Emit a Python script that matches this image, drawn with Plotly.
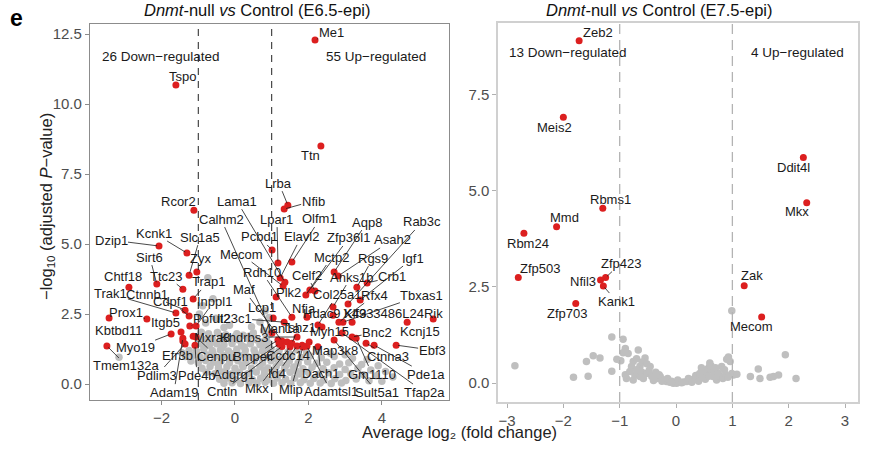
import plotly.graph_objects as go

W, H = 874, 450
FONT = "Arial, 'Liberation Sans', sans-serif"

# ---------------- E6.5-epi : significant genes ----------------
e65_genes = ["Me1", "Tspo", "Ttn", "Lrba", "Nfib", "Rcor2", "Pcbd1", "Lpar1", "Olfm1", "Elavl2",
             "Lama1", "Mecom", "Rdh10", "Calhm2", "Aqp8", "Asah2", "Zfp36l1", "Celf2", "Mctp2", "Plk2",
             "Rgs9", "Crb1", "Rab3c", "Igf1", "Anks1b", "Col25a1", "Rfx4", "Tbxas1", "Hdac9", "Klf3",
             "X4933486L24Rik", "Kcnj15", "Nfia", "Lcp1", "Maf", "Il23c1", "Man1a", "Tshz1", "Khdrbs3", "Bmper",
             "Ccdc14", "Myh15", "Bnc2", "Map3k8", "Ebf3", "Ctnna3", "Pde1a", "Gm1110", "Tfap2a", "Sult5a1",
             "Adamtsl1", "Dach1", "Mlip", "Mkx", "Cntln", "Adgrg1", "Id4",
             "Dzip1", "Kcnk1", "Slc1a5", "Zyx", "Sirt6", "Ttc23", "Chtf18", "Trap1", "Trak1", "Ctnnb1",
             "Cdpf1", "Inppl1", "Pofut2", "Kbtbd11", "Prox1", "Itgb5", "Myo19", "Mxra8", "Cenpu", "Efr3b",
             "Pdlim3", "Pde4b", "Adam19", "Tmem132a"]
e65_fc = [2.18, -1.61, 2.34, 1.44, 1.34, -1.12, 1.01, 1.17, 1.55, 1.23,
          1.36, 1.31, 1.55, 1.01, 2.70, 2.81, 2.04, 2.18, 1.93, 1.12,
          3.32, 3.60, 3.08, 3.41, 2.67, 2.26, 2.83, 2.94, 2.67, 3.19,
          5.40, 4.69, 1.96, 1.04, 1.28, 1.34, 1.42, 1.55, 1.69, 1.17,
          1.83, 2.37, 3.19, 2.02, 4.39, 3.57, 3.79, 3.30, 2.92, 2.70,
          1.96, 2.26, 1.85, 1.50, 1.28, 1.20, 1.69,
          -2.07, -1.31, -1.25, -1.04, -2.13, -1.42, -2.89, -1.14, -1.61, -1.36,
          -1.25, -1.06, -1.23, -3.43, -2.40, -1.47, -1.74, -1.14, -1.06, -1.42,
          -1.36, -1.09, -1.42, -3.49]
e65_logp = [12.29, 10.68, 8.50, 6.39, 6.25, 6.21, 4.79, 4.32, 4.36, 3.79,
            3.64, 3.50, 2.39, 1.82, 4.00, 3.86, 3.36, 3.32, 3.18, 3.11,
            3.46, 3.61, 2.86, 3.00, 2.75, 2.11, 2.21, 2.21, 2.46, 2.21,
            2.32, 2.21, 2.39, 2.36, 1.54, 2.21, 1.50, 1.46, 1.68, 1.57,
            1.39, 2.04, 1.68, 1.50, 1.39, 1.46, 1.39, 1.64, 1.82, 1.57,
            1.35, 1.33, 1.32, 1.33, 1.34, 1.43, 1.36,
            4.93, 4.68, 3.89, 4.00, 3.57, 3.39, 3.46, 3.04, 2.54, 2.64,
            2.43, 2.07, 2.07, 2.36, 2.32, 1.86, 1.79, 1.71, 1.68, 1.54,
            1.43, 1.39, 1.64, 1.36]

# ---------------- E6.5-epi : non-significant genes ----------------
e65_gray_fc = [-0.74, -0.60, -0.88, -0.97, -0.52, -0.80, -0.30, 0.82, 0.68, 0.93, 0.45, -0.15, -3.16,
               -0.92, -0.72, -0.48, -0.25, 0.05, 0.22, 0.50, 0.78, 0.95,
               -0.98, -0.82, -0.62, -0.40, -0.15, 0.10, 0.35, 0.60, 0.85,
               -0.90, -0.70, -0.50, -0.30, -0.08, 0.18, 0.42, 0.68, 0.92,
               -1.45, -1.25, -1.05, -0.85, -0.62, -0.40, -0.18, 0.05, 0.28, 0.52, 0.75, 0.98, 1.20, 1.45, 1.70, 1.95, 2.25, 2.60, 3.00,
               -1.35, -1.15, -0.95, -0.75, -0.55, -0.32, -0.10, 0.12, 0.35, 0.58, 0.80, 1.05, 1.30, 1.55, 1.80, 2.05, 2.35, 2.70, 3.20, 3.60,
               -1.20, -1.00, -0.80, -0.60, -0.38, -0.15, 0.08, 0.30, 0.52, 0.75, 0.98, 1.22, 1.48, 1.72, 1.98, 2.22, 2.50, 2.85, 3.10, 3.45, 3.90,
               -0.90, -0.68, -0.45, -0.22, 0.00, 0.22, 0.45, 0.68, 0.90, 1.12, 1.35, 1.60, 1.85, 2.10, 2.40, 2.70, 3.00, 3.35, 3.70, 4.10,
               -0.78, -0.55, -0.32, -0.10, 0.12, 0.35, 0.58, 0.80, 1.02, 1.25, 1.50, 1.75, 2.00, 2.28, 2.55, 2.85, 3.15, 3.50, 3.85, 4.30,
               -0.42, -0.20, 0.02, 0.25, 0.48, 0.70, 0.92, 1.15, 1.38, 1.62, 1.88, 2.15, 2.42, 2.72, 3.02, 3.30, 3.65, 4.00,
               -0.30, -0.08, 0.15, 0.38, 0.60, 0.82, 1.05, 1.28, 1.52, 1.78, 2.05, 2.32, 2.62, 2.90,
               -0.60, -0.35, -0.05, 0.25, 0.55, 0.85, 1.15, 1.40, 1.65, -0.45, -0.12, 0.20, 0.50, 0.80, 1.10,
               -0.68, -0.40, 0.00, 0.40, 0.75]
e65_gray_logp = [3.80, 3.05, 2.80, 2.50, 2.35, 2.18, 2.02, 2.62, 2.22, 2.38, 2.05, 2.10, 0.96,
                 1.85, 1.80, 1.84, 1.76, 1.80, 1.74, 1.82, 1.90, 1.78,
                 1.62, 1.58, 1.64, 1.58, 1.62, 1.57, 1.63, 1.58, 1.64,
                 1.42, 1.38, 1.44, 1.40, 1.45, 1.38, 1.44, 1.40, 1.46,
                 1.12, 1.20, 1.18, 1.24, 1.20, 1.22, 1.18, 1.24, 1.20, 1.22, 1.18, 1.24, 1.20, 1.15, 1.22, 1.12, 1.18, 1.10, 1.05,
                 0.98, 1.02, 0.96, 1.04, 0.98, 1.02, 0.96, 1.03, 0.97, 1.02, 0.96, 1.03, 0.97, 1.02, 0.95, 1.00, 0.94, 0.98, 0.92, 0.88,
                 0.82, 0.76, 0.84, 0.78, 0.82, 0.76, 0.83, 0.77, 0.82, 0.76, 0.83, 0.77, 0.82, 0.75, 0.80, 0.74, 0.78, 0.72, 0.76, 0.70, 0.65,
                 0.56, 0.63, 0.57, 0.62, 0.56, 0.62, 0.56, 0.62, 0.57, 0.63, 0.56, 0.61, 0.55, 0.60, 0.55, 0.58, 0.52, 0.56, 0.50, 0.45,
                 0.42, 0.37, 0.43, 0.36, 0.42, 0.37, 0.43, 0.36, 0.42, 0.37, 0.42, 0.36, 0.41, 0.35, 0.40, 0.34, 0.38, 0.33, 0.30, 0.25,
                 0.17, 0.22, 0.16, 0.21, 0.15, 0.21, 0.16, 0.22, 0.17, 0.21, 0.15, 0.20, 0.14, 0.19, 0.13, 0.18, 0.12, 0.10,
                 0.03, 0.05, 0.02, 0.05, 0.03, 0.06, 0.03, 0.05, 0.02, 0.05, 0.03, 0.04, 0.02, 0.04,
                 1.10, 1.30, 1.08, 1.32, 1.10, 1.30, 0.88, 0.68, 0.48, 0.70, 0.90, 0.68, 0.92, 0.50, 0.30,
                 1.52, 1.72, 1.70, 1.72, 1.50]

# ---------------- E7.5-epi : significant genes ----------------
e75_genes = ["Zeb2", "Meis2", "Rbms1", "Mmd", "Rbm24", "Zfp503", "Zfp423", "Nfil3", "Kank1", "Zfp703",
             "Ddit4l", "Mkx", "Zak", "Mecom"]
e75_fc = [-1.72, -2.00, -1.30, -2.12, -2.70, -2.80, -1.25, -1.34, -1.29, -1.78,
          2.26, 2.32, 1.21, 1.52]
e75_logp = [8.89, 6.90, 4.54, 4.06, 3.89, 2.74, 2.74, 2.68, 2.52, 2.07,
            5.86, 4.68, 2.53, 1.72]
e75_n_down, e75_n_up = 13, 4

# ---------------- E7.5-epi : non-significant genes ----------------
e75_gray_fc = [-2.86, -1.82, -1.56, -1.59, -1.47, -1.35, -1.14, -0.94, -1.14, -0.94, -0.85, -0.67, -0.55,
               -0.76, -0.79, -0.64, -0.46, -0.88, -0.76, -0.73, -0.64, -0.61, -0.52, -0.43, -0.34, -0.28,
               -0.22, -0.17, -0.11, -0.05, 0.01, 0.07, 0.13, 0.19, 0.25, 0.31, 0.37, 0.43, 0.49, 0.54,
               0.57, 0.60, 0.63, 0.66, 0.72, 0.78, 0.81, 0.90, 0.93, 0.96, 0.99, 1.02, 1.08, 1.32, 1.46,
               1.49, 1.67, 1.73, 1.82, 1.94, 2.13, 0.99,
               -0.90, -0.82, -0.70, -0.58, -0.48, -0.40, -0.30, -0.25, -0.15, -0.08, 0.03, 0.10, 0.22,
               0.28, 0.35, 0.40, 0.46, 0.52, 0.58, 0.62, 0.68, 0.75, 0.83, 0.86, 0.88, 0.92, 0.60, 0.45,
               -0.70, -0.60, -0.98, -1.05, -0.90, -0.52, -0.36, 0.42, 0.70]
e75_gray_logp = [0.45, 0.15, 0.18, 0.56, 0.71, 0.65, 1.20, 1.14, 0.31, 0.79, 0.77, 0.86, 0.65,
                 0.56, 0.43, 0.44, 0.43, 0.12, 0.08, 0.21, 0.17, 0.29, 0.25, 0.17, 0.12, 0.17,
                 0.08, 0.04, 0.02, 0.00, 0.00, 0.02, 0.03, 0.04, 0.07, 0.10, 0.12, 0.17, 0.21, 0.25,
                 0.38, 0.44, 0.34, 0.17, 0.08, 0.17, 0.43, 0.62, 0.68, 0.56, 0.25, 0.21, 0.23, 0.17, 0.37,
                 0.12, 0.15, 0.17, 0.21, 0.74, 0.12, 1.88,
                 0.22, 0.30, 0.35, 0.12, 0.32, 0.07, 0.22, 0.05, 0.12, 0.05, 0.08, 0.01, 0.12,
                 0.02, 0.20, 0.05, 0.30, 0.10, 0.18, 0.45, 0.30, 0.26, 0.12, 0.35, 0.22, 0.15, 0.52, 0.40,
                 0.63, 0.55, 0.58, 0.62, 0.90, 0.50, 0.28, 0.25, 0.40]

# ---------------- axes ----------------
e65_xticks = [-2, 0, 2, 4]
e65_yticks = [0, 2.5, 5, 7.5, 10, 12.5]
e75_xticks = [-3, -2, -1, 0, 1, 2, 3]
e75_yticks = [0, 2.5, 5, 7.5]
fc_cutoffs = [-1, 1]

# ---------------- label placement (pixel offsets from the point) ----------------
e65_label_offsets = {
    "Me1": (16, -7), "Tspo": (7, -9), "Ttn": (-10, 9), "Lrba": (-9, -22), "Nfib": (29, -8),
    "Rcor2": (-15, -9), "Pcbd1": (-13, -13), "Lpar1": (-1, -44), "Olfm1": (28, -43), "Elavl2": (21, -41),
    "Lama1": (-48, -81), "Mecom": (-42, -32), "Rdh10": (-30, -45), "Calhm2": (-51, -114), "Aqp8": (33, -50),
    "Asah2": (54, -36), "Zfp36l1": (39, -52), "Celf2": (-8, -16), "Mctp2": (26, -38), "Plk2": (12, -4),
    "Rgs9": (16, -29), "Crb1": (25, -6), "Rab3c": (74, -82), "Igf1": (53, -42), "Anks1b": (18, -30),
    "Col25a1": (19, -30), "Rfx4": (36, -27), "Tbxas1": (79, -27), "Hdac9": (-11, -2), "Klf3": (3, -9),
    "X4933486L24Rik": (-40, -6), "Kcnj15": (13, 9), "Nfia": (-3, -9), "Lcp1": (-11, -10), "Maf": (-38, -51),
    "Il23c1": (-50, -4), "Man1a": (-7, -14), "Tshz1": (7, -16), "Khdrbs3": (-53, 0), "Bmper": (-25, 16),
    "Ccdc14": (-14, 10), "Myh15": (8, 5), "Bnc2": (25, -5), "Map3k8": (26, 8), "Ebf3": (36, 5),
    "Ctnna3": (22, 13), "Pde1a": (52, 29), "Gm1110": (16, 36), "Tfap2a": (82, 59), "Sult5a1": (43, 52),
    "Adamtsl1": (24, 45), "Dach1": (3, 27), "Mlip": (-12, 42), "Mkx": (-33, 42), "Cntln": (-60, 45),
    "Adgrg1": (-45, 30), "Id4": (-20, 28),
    "Dzip1": (-48, -6), "Kcnk1": (-33, -20), "Slc1a5": (11, -38), "Zyx": (4, -14), "Sirt6": (-7, -27),
    "Ttc23": (-16, -13), "Chtf18": (-6, -11), "Trap1": (15, -17), "Trak1": (-65, -19), "Ctnnb1": (-38, -16),
    "Cdpf1": (-19, -15), "Inppl1": (18, -25), "Pofut2": (22, -8), "Kbtbd11": (9, 13), "Prox1": (-21, -7),
    "Itgb5": (-16, -9), "Myo19": (-36, 14), "Mxra8": (19, 1), "Cenpu": (20, 19), "Efr3b": (-5, 15),
    "Pdlim3": (-28, 31), "Pde4b": (2, 30), "Adam19": (-9, 54), "Tmem132a": (20, 20),
}
e75_label_offsets = {
    "Zeb2": (19, -8, False), "Meis2": (-9, 10, False), "Rbms1": (8, -9, False), "Mmd": (8, -9, False),
    "Rbm24": (4, 10, False), "Zfp503": (22, -9, False), "Zfp423": (15, -14, True), "Nfil3": (-18, 2, False),
    "Kank1": (13, 15, True), "Zfp703": (-9, 10, False), "Ddit4l": (-10, 10, False), "Mkx": (-10, 9, False),
    "Zak": (8, -10, False), "Mecom": (-10, 10, False),
}

RED = "#dc1f1f"
GRAY = "#bfbfbf"

fig = go.Figure()
fig.add_trace(go.Scatter(x=e65_gray_fc, y=e65_gray_logp, mode="markers",
                         marker=dict(color=GRAY, size=7.5), xaxis="x", yaxis="y", showlegend=False))
fig.add_trace(go.Scatter(x=e65_fc, y=e65_logp, mode="markers",
                         marker=dict(color=RED, size=7), xaxis="x", yaxis="y", showlegend=False))
fig.add_trace(go.Scatter(x=e75_gray_fc, y=e75_gray_logp, mode="markers",
                         marker=dict(color=GRAY, size=7.5), xaxis="x2", yaxis="y2", showlegend=False))
fig.add_trace(go.Scatter(x=e75_fc, y=e75_logp, mode="markers",
                         marker=dict(color=RED, size=7), xaxis="x2", yaxis="y2", showlegend=False))

ann = []
for g, fx, fy in zip(e65_genes, e65_fc, e65_logp):
    dx, dy = e65_label_offsets[g]
    line = (dx * dx + dy * dy) ** 0.5 > 17
    ann.append(dict(x=fx, y=fy, xref="x", yref="y", text=g, showarrow=True, ax=dx, ay=dy,
                    arrowhead=0, arrowwidth=0.8, standoff=2,
                    arrowcolor="#1a1a1a" if line else "rgba(0,0,0,0)",
                    font=dict(family=FONT, size=13, color="#1a1a1a"), borderpad=0))
for g, fx, fy in zip(e75_genes, e75_fc, e75_logp):
    dx, dy, line = e75_label_offsets[g]
    ann.append(dict(x=fx, y=fy, xref="x2", yref="y2", text=g, showarrow=True, ax=dx, ay=dy,
                    arrowhead=0, arrowwidth=0.8, standoff=2,
                    arrowcolor="#1a1a1a" if line else "rgba(0,0,0,0)",
                    font=dict(family=FONT, size=13, color="#1a1a1a"), borderpad=0))


def px_x(px):
    return px / W


def px_y(py):
    return 1 - py / H


def text_at(px, py, text, size=13.5, color="#1a1a1a", angle=0):
    ann.append(dict(x=px_x(px), y=px_y(py), xref="paper", yref="paper", text=text, showarrow=False,
                    xanchor="center", yanchor="middle", textangle=angle,
                    font=dict(family=FONT, size=size, color=color)))


n_down_65 = sum(1 for v in e65_fc if v < 0)
n_up_65 = sum(1 for v in e65_fc if v > 0)
text_at(160, 56, f"{n_down_65} Down\u2212regulated")
text_at(376, 56, f"{n_up_65} Up\u2212regulated")
text_at(567, 53, f"{e75_n_down} Down\u2212regulated")
text_at(797, 53, f"{e75_n_up} Up\u2212regulated")
text_at(257, 10, "<i>Dnmt</i>-null <i>vs</i> Control (E6.5-epi)", size=16.5, color="#111")
text_at(659, 10, "<i>Dnmt</i>-null <i>vs</i> Control (E7.5-epi)", size=16.5, color="#111")
text_at(16, 18, "<b>e</b>", size=23, color="#000")
text_at(47, 207, "\u2212log<sub>10</sub> (adjusted <i>P</i>\u2212value)", size=16.5, color="#222", angle=-90)
text_at(459, 432, "Average log\u2082 (fold change)", size=16.5, color="#222")

shapes = []
for c in fc_cutoffs:
    shapes.append(dict(type="line", xref="x", yref="y domain", x0=c, x1=c, y0=0, y1=1,
                       line=dict(color="#222", width=1, dash="7px,6px")))
    shapes.append(dict(type="line", xref="x2", yref="y2 domain", x0=c, x1=c, y0=0, y1=1,
                       line=dict(color="#b3b3b3", width=1.3, dash="10px,6px")))

tickfont = dict(family=FONT, size=15, color="#4d4d4d")
fig.update_layout(
    width=W, height=H, margin=dict(l=0, r=0, t=0, b=0),
    paper_bgcolor="white", plot_bgcolor="white",
    font=dict(family=FONT),
    annotations=ann, shapes=shapes,
    xaxis=dict(domain=[px_x(90), px_x(449)], range=[-3.95, 5.83], tickvals=e65_xticks,
               showgrid=False, zeroline=False, showline=True, mirror=True, linecolor="#8c8c8c",
               linewidth=1.2, ticks="outside", ticklen=4, tickcolor="#8c8c8c", tickfont=tickfont),
    yaxis=dict(domain=[px_y(400), px_y(24)], range=[-0.57, 12.86], tickvals=e65_yticks,
               tickformat=".1f", showgrid=False, zeroline=False, showline=True, mirror=True,
               linecolor="#8c8c8c", linewidth=1.2, ticks="outside", ticklen=4, tickcolor="#8c8c8c",
               tickfont=tickfont),
    xaxis2=dict(domain=[px_x(498), px_x(858)], range=[-3.16, 3.23], tickvals=e75_xticks, anchor="y2",
                showgrid=False, zeroline=False, showline=True, mirror=True, linecolor="#d0d0d0",
                linewidth=1.5, ticks="outside", ticklen=4, tickcolor="#b0b0b0", tickfont=tickfont),
    yaxis2=dict(domain=[px_y(402), px_y(23)], range=[-0.49, 9.35], tickvals=e75_yticks,
                tickformat=".1f", anchor="x2", showgrid=False, zeroline=False, showline=True,
                mirror=True, linecolor="#d0d0d0", linewidth=1.5, ticks="outside", ticklen=4,
                tickcolor="#b0b0b0", tickfont=tickfont),
)

# remove the browser's default 8px page margin so the figure fills the window exactly
fig.write_html("out.html", config={"displayModeBar": False},
               post_script="document.body.style.margin='0px';")
